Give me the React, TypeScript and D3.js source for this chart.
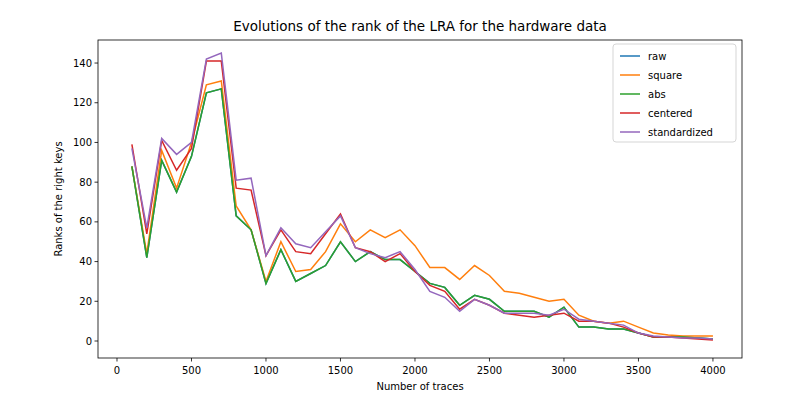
import * as d3 from 'd3';

const traces = d3.range(100, 4001, 100);
const abs = [88, 42, 91, 75, 93, 125, 127, 63, 56, 29, 46, 30, 34, 38, 50, 40, 45, 41, 41, 35, 29, 27, 18, 23, 21, 15, 15, 15, 12, 17, 7, 7, 6, 6, 4, 2, 2, 2, 1.5, 1];
const raw = abs.slice();
const square = [88, 44, 96, 77, 100, 129, 131, 68, 56, 30, 50, 35, 36, 45, 59, 50, 56, 52, 56, 48, 37, 37, 31, 38, 33, 25, 24, 22, 20, 21, 13, 10, 9, 10, 7, 4, 3, 2.5, 2.5, 2.5];
const centered = [99, 54, 101, 86, 97, 141, 141, 77, 76, 43, 56, 45, 44, 54, 64, 47, 45, 40, 44, 35, 28, 25, 16, 21, 18, 14, 13, 12, 13, 14, 10, 10, 9, 7, 4, 2, 2, 1.5, 1, 0.5];
const standardized = [97, 57, 102, 94, 100, 142, 145, 81, 82, 43, 57, 49, 47, 55, 63, 47, 44, 42, 45, 36, 25, 22, 15, 21, 18, 14, 14, 14, 13, 16, 11, 10, 9, 8, 4, 2.5, 2, 1.5, 1.5, 1];

const series = [
  { name: 'raw', values: raw, color: '#1f77b4' },
  { name: 'square', values: square, color: '#ff7f0e' },
  { name: 'abs', values: abs, color: '#2ca02c' },
  { name: 'centered', values: centered, color: '#d62728' },
  { name: 'standardized', values: standardized, color: '#9467bd' },
];
const xTicks = [0, 500, 1000, 1500, 2000, 2500, 3000, 3500, 4000];
const yTicks = [0, 20, 40, 60, 80, 100, 120, 140];

export default function App() {
  const width = 785, height = 413;
  const m = { left: 98, right: 43, top: 40, bottom: 55 };
  const x = d3.scaleLinear().domain([-127.5, 4195]).range([m.left, width - m.right]);
  const y = d3.scaleLinear().domain([-8.56, 151.6]).range([height - m.bottom, m.top]);
  const line = d3.line<number>().x((_, i) => x(traces[i])).y((d) => y(d));
  const font = 'DejaVu Sans, sans-serif';
  return (
    <svg width={width} height={height} style={{ position: 'absolute', left: 0, top: 0 }} fontFamily={font}>
      <rect width={width} height={height} fill="#fff" />
      <text x={(m.left + width - m.right) / 2} y={31} textAnchor="middle" fontSize={13.5}>
        Evolutions of the rank of the LRA for the hardware data
      </text>
      {series.map((s) => (
        <path key={s.name} d={line(s.values) || ''} fill="none" stroke={s.color} strokeWidth={1.5} />
      ))}
      <rect x={m.left} y={m.top} width={width - m.left - m.right} height={height - m.top - m.bottom} fill="none" stroke="#000" strokeWidth={0.8} />
      {xTicks.map((t) => (
        <g key={t}>
          <line x1={x(t)} x2={x(t)} y1={height - m.bottom} y2={height - m.bottom + 3.5} stroke="#000" strokeWidth={0.8} />
          <text x={x(t)} y={height - m.bottom + 16} textAnchor="middle" fontSize={10}>{t}</text>
        </g>
      ))}
      {yTicks.map((t) => (
        <g key={t}>
          <line x1={m.left - 3.5} x2={m.left} y1={y(t)} y2={y(t)} stroke="#000" strokeWidth={0.8} />
          <text x={m.left - 6} y={y(t) + 3.5} textAnchor="end" fontSize={10}>{t}</text>
        </g>
      ))}
      <text x={(m.left + width - m.right) / 2} y={390} textAnchor="middle" fontSize={10}>Number of traces</text>
      <text transform={`translate(62,${(m.top + height - m.bottom) / 2}) rotate(-90)`} textAnchor="middle" fontSize={10}>
        Ranks of the right keys
      </text>
      <rect x={613} y={44} width={123} height={98} rx={3} fill="#fff" stroke="#ccc" opacity={0.8} />
      {series.map((s, i) => (
        <g key={s.name} transform={`translate(620,${56 + i * 19})`}>
          <line x1={0} x2={20} y1={0} y2={0} stroke={s.color} strokeWidth={1.5} />
          <text x={28} y={3.5} fontSize={10}>{s.name}</text>
        </g>
      ))}
    </svg>
  );
}
